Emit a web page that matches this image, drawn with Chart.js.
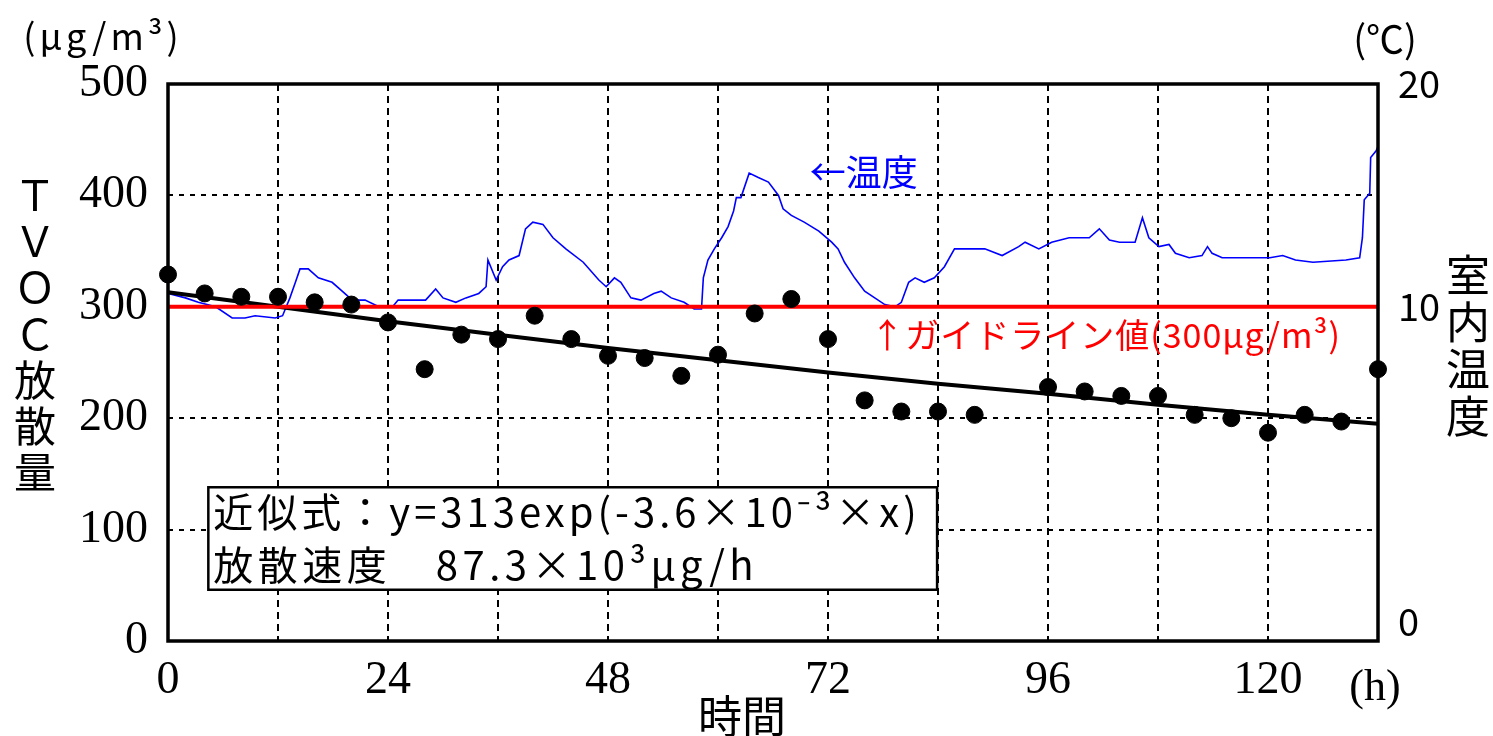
<!DOCTYPE html>
<html>
<head>
<meta charset="utf-8">
<script src="https://cdn.jsdelivr.net/npm/chart.js@4.4.0/dist/chart.umd.min.js"></script>
<style>
html,body{margin:0;padding:0;background:#fff;}
#wrap{width:1493px;height:736px;}
</style>
</head>
<body>
<div id="wrap"><canvas id="chart"></canvas></div>
<script>
// TVOC emission (ug/m3) measured every 4 h
var tvocHours=[0,4,8,12,16,20,24,28,32,36,40,44,48,52,56,60,64,68,72,76,80,84,88,96,100,104,108,112,116,120,124,128,132];
var tvocValues=[329,312,309,309,304,302,286,244,275,271,292,271,256,254,238,257,294,307,271,216,206,206,203,228,224,220,220,203,200,187,203,197,244];

// approximation curve
var fitHours=[0,12,24,36,48,60,72,84,96,108,120,132];
var fitValues=[313,300,287,275,263,252,241,231,222,212,203,195];

// guideline value
var guideHours=[0,132];
var guideValues=[300,300];

// room temperature (deg C)
var tempHours=[0,1.9,3.3,5.2,7.0,8.4,9.5,11.7,12.5,12.8,
  13.3,13.9,14.4,15.3,16.4,17.9,19.0,20.1,21.5,23.0,
  24.5,25.1,26.2,28.1,29.2,30.0,31.4,32.5,33.9,34.7,
  34.9,35.8,36.5,37.2,38.3,39.0,39.8,40.9,42.0,43.4,
  45.3,47.0,47.8,48.7,49.4,50.5,51.6,53.0,53.8,54.9,
  56.3,57.4,58.2,58.4,58.9,59.6,60.4,61.1,61.7,62.0,
  62.5,63.4,64.4,65.5,66.6,67.1,68.0,69.4,71.0,72.4,
  73.1,73.8,74.9,76.0,77.1,78.2,79.3,80.0,80.8,81.5,
  82.5,83.6,84.7,85.8,86.6,87.4,89.1,91.0,92.8,93.5,
  95.0,96.4,98.3,100.5,101.6,102.7,103.8,105.5,106.3,107.0,
  108.1,109.2,109.9,111.4,112.8,113.4,113.9,115.0,118.0,120.2,
  121.6,123.0,124.9,128.5,130.0,130.3,130.5,131.1,131.2,131.8,
  132.0];
var tempValues=[10.6,10.4,10.2,10.0,9.5,9.5,9.6,9.5,9.6,9.9,
  10.4,11.1,11.7,11.7,11.3,11.1,10.7,10.3,10.3,10.0,
  10.0,10.3,10.3,10.3,10.8,10.4,10.2,10.4,10.6,10.9,
  12.1,11.2,11.8,12.1,12.3,13.5,13.8,13.7,13.1,12.6,
  12.0,11.2,10.9,11.3,11.1,10.4,10.3,10.6,10.7,10.4,
  10.2,9.9,9.9,11.3,12.1,12.6,13.1,13.6,14.3,14.9,
  14.9,16.0,15.8,15.6,15.0,14.4,14.1,13.8,13.4,12.9,
  12.6,12.0,11.3,10.7,10.4,10.1,10.0,10.2,11.1,11.3,
  11.1,11.3,11.8,12.6,12.6,12.6,12.6,12.3,12.7,12.9,
  12.6,12.9,13.1,13.1,13.5,13.0,12.9,12.9,14.0,13.1,
  12.7,12.8,12.4,12.2,12.3,12.7,12.4,12.2,12.2,12.2,
  12.3,12.1,12.0,12.1,12.2,13.1,14.8,15.1,16.7,17.0,
  17.2];

var xLabels=[0,24,48,72,96,120];
var rightLabels=[10,20];

function pts(xs,ys){
  return xs.map(function(x,i){return {x:x,y:ys[i]};});
}

var CJK='"Noto Sans CJK JP", sans-serif';
var SERIF='"Liberation Serif", serif';

function txt(ctx,s,x,y,font,color,align,spacing){
  ctx.font=font;
  ctx.fillStyle=color||'#000';
  ctx.textAlign=align||'center';
  ctx.textBaseline='middle';
  if('letterSpacing' in ctx) ctx.letterSpacing=spacing||'0px';
  ctx.fillText(s,x,y);
  if('letterSpacing' in ctx) ctx.letterSpacing='0px';
}

var textPlugin={
  id:'texts',
  afterDatasetsDraw:function(chart){
    var ctx=chart.ctx, x=chart.scales.x, y=chart.scales.y;
    ctx.save();
    // formula box
    var l=x.getPixelForValue(4.4), r=x.getPixelForValue(83.9);
    var t=y.getPixelForValue(138), b=y.getPixelForValue(46);
    ctx.fillStyle='#fff';
    ctx.fillRect(l,t,r-l,b-t);
    ctx.strokeStyle='#000';
    ctx.lineWidth=2.5;
    ctx.strokeRect(l,t,r-l,b-t);
    txt(ctx,'近似式：y=313exp(-3.6×10⁻³×x)',l+5,t+25,'40px '+CJK,'#000','left','4px');
    txt(ctx,'放散速度　87.3×10³μg/h',l+5,t+78,'40px '+CJK,'#000','left','4.5px');
    // annotations
    txt(ctx,'←温度',x.getPixelForValue(70),y.getPixelForValue(421),'36px '+CJK,'#0000ff','left');
    txt(ctx,'↑ガイドライン値(300μg/m³)',x.getPixelForValue(76.6),y.getPixelForValue(300)+28,'34px '+CJK,'#ff0000','left','1px');
    ctx.restore();
  },
  afterDraw:function(chart){
    var ctx=chart.ctx, a=chart.chartArea;
    ctx.save();
    ctx.strokeStyle='#000';
    ctx.lineWidth=3.5;
    ctx.strokeRect(a.left,a.top,a.right-a.left,a.bottom-a.top);
    // axis titles
    txt(ctx,'(μg/m³)',103,36,'36px '+CJK,'#000','center','4px');
    txt(ctx,'(℃)',1385,39,'38px '+CJK,'#000','center');
    var left=['Ｔ','Ｖ','Ｏ','Ｃ','放','散','量'];
    left.forEach(function(c,i){txt(ctx,c,35,195+i*46.2,'42px '+CJK,'#000');});
    var right=['室','内','温','度'];
    right.forEach(function(c,i){txt(ctx,c,1468,275+i*47,'44px '+CJK,'#000');});
    txt(ctx,'時間',742,716,'44px '+CJK,'#000');
    txt(ctx,'(h)',1375,688,'44px '+SERIF,'#000');
    ctx.restore();
  }
};

new Chart(document.getElementById('chart'),{
  type:'line',
  data:{
    datasets:[
      {
        label:'TVOC',
        type:'scatter',
        data:pts(tvocHours,tvocValues),
        backgroundColor:'#000',
        borderColor:'#000',
        pointRadius:8.5,
        pointHoverRadius:8.5,
        showLine:false,
        clip:false,
        yAxisID:'y'
      },
      {
        label:'guide',
        data:pts(guideHours,guideValues),
        borderColor:'#ff0000',
        borderWidth:4,
        pointRadius:0,
        yAxisID:'y'
      },
      {
        label:'fit',
        data:pts(fitHours,fitValues),
        borderColor:'#000',
        borderWidth:4,
        pointRadius:0,
        yAxisID:'y'
      },
      {
        label:'temp',
        data:pts(tempHours,tempValues),
        borderColor:'#0000ff',
        borderWidth:1.6,
        pointRadius:0,
        tension:0,
        yAxisID:'y2'
      }
    ]
  },
  options:{
    responsive:true,
    maintainAspectRatio:false,
    animation:false,
    events:[],
    layout:{padding:{top:84,left:0,right:0,bottom:0}},
    plugins:{legend:{display:false},tooltip:{enabled:false}},
    scales:{
      x:{
        type:'linear',
        min:0,
        max:132,
        afterBuildTicks:function(s){
          var t=[];
          for(var v=0;v<=132;v+=12) t.push({value:v});
          s.ticks=t;
        },
        afterFit:function(s){s.height=95;},
        grid:{color:'#000',lineWidth:2,drawTicks:false},
        border:{display:false,dash:[7,5]},
        ticks:{
          autoSkip:false,
          maxRotation:0,
          padding:12,
          color:'#000',
          font:{family:'Liberation Serif',size:46},
          callback:function(v){return xLabels.indexOf(v)>=0?String(v):'';}
        }
      },
      y:{
        position:'left',
        min:0,
        max:500,
        afterFit:function(s){s.width=168;},
        grid:{color:'#000',lineWidth:2,drawTicks:false},
        border:{display:false,dash:[5,6]},
        ticks:{
          stepSize:100,
          padding:20,
          color:'#000',
          font:{family:'Liberation Serif',size:46}
        }
      },
      y2:{
        position:'right',
        min:-5,
        max:20,
        afterBuildTicks:function(s){
          s.ticks=[{value:-5}].concat(rightLabels.map(function(v){return {value:v};}));
        },
        afterFit:function(s){s.width=115;},
        grid:{display:false,drawTicks:false},
        border:{display:false},
        ticks:{
          autoSkip:false,
          padding:20,
          color:'#000',
          font:{family:'Noto Sans CJK JP',size:38,lineHeight:1.0},
          callback:function(v){return v===-5?['0','']:String(v);}
        }
      }
    }
  },
  plugins:[textPlugin]
});
</script>
</body>
</html>
